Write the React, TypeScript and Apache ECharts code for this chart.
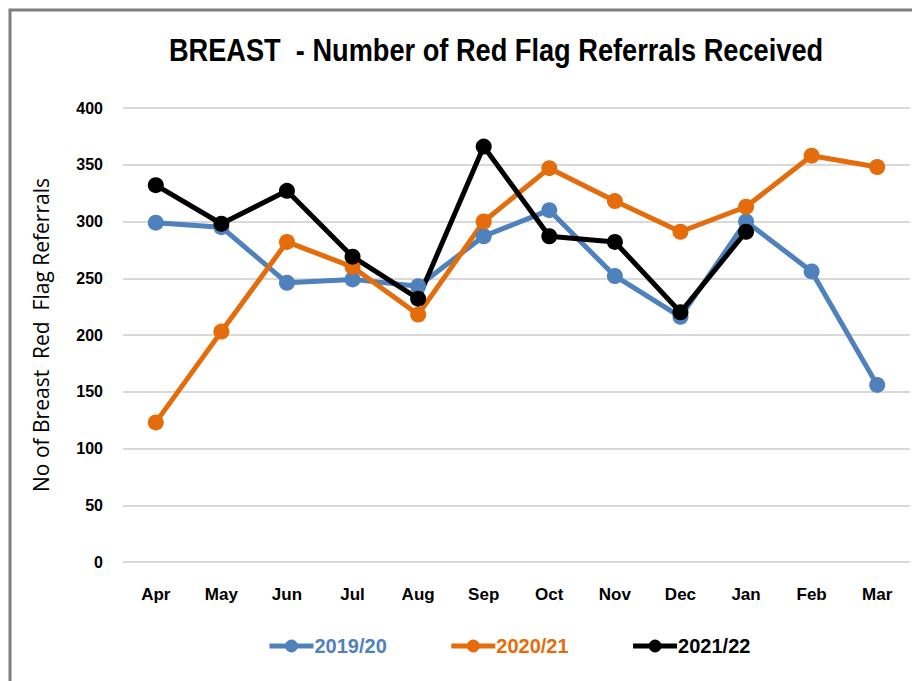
import React, { useEffect, useRef } from "react";
import * as echarts from "echarts";

const months = ["Apr", "May", "Jun", "Jul", "Aug", "Sep", "Oct", "Nov", "Dec", "Jan", "Feb", "Mar"];
const s1920 = [299, 295, 246, 249, 243, 287, 310, 252, 216, 300, 256, 156];
const s2021 = [123, 203, 282, 260, 218, 300, 347, 318, 291, 313, 358, 348];
const s2122 = [332, 298, 327, 269, 232, 366, 287, 282, 220, 291, null, null];
const seriesNames = ["2019/20", "2020/21", "2021/22"];
const colors = ["#4F81BD", "#E46C0A", "#000000"];
const titleText = "BREAST  - Number of Red Flag Referrals Received";
const yAxisTitle = "No of Breast  Red  Flag Referrals";

export default function App() {
  const ref = useRef<HTMLDivElement>(null);
  useEffect(() => {
    if (!ref.current) return;
    const chart = echarts.init(ref.current, null, { renderer: "svg" });
    const datas = [s1920, s2021, s2122];
    const font = "'Liberation Sans', Arial, sans-serif";
    chart.setOption({
      animation: false,
      backgroundColor: "#ffffff",
      graphic: [
        {
          type: "rect",
          shape: { x: 10, y: 10, width: 960, height: 760 },
          style: { fill: "none", stroke: "#7f7f7f", lineWidth: 3 },
          silent: true,
        },
        {
          type: "text",
          x: 496,
          y: 50,
          scaleX: 0.85,
          style: {
            text: titleText,
            align: "center",
            verticalAlign: "middle",
            fontFamily: font,
            fontWeight: "bold",
            fontSize: 32,
            fill: "#000",
          },
        },
      ],
      legend: {
        bottom: 20,
        left: 262,
        itemWidth: 44,
        itemHeight: 16,
        itemGap: 62,
        lineStyle: { width: 5 },
        data: seriesNames.map((n, i) => ({ name: n, textStyle: { color: colors[i] } })),
        textStyle: { fontFamily: font, fontWeight: "bold", fontSize: 20, padding: [0, 0, 0, -4] },
      },
      grid: { left: 123, right: 2, top: 108, bottom: 119, containLabel: false },
      xAxis: {
        type: "category",
        data: months,
        boundaryGap: true,
        axisLine: { show: false },
        axisTick: { show: false },
        axisLabel: { margin: 24, color: "#000", fontFamily: font, fontWeight: "bold", fontSize: 17 },
      },
      yAxis: {
        type: "value",
        min: 0,
        max: 400,
        interval: 50,
        name: yAxisTitle,
        nameLocation: "middle",
        nameGap: 72,
        nameTextStyle: { fontFamily: "'Open Sans', sans-serif", fontSize: 21, color: "#000" },
        axisLine: { show: false },
        axisTick: { show: false },
        axisLabel: { margin: 20, color: "#000", fontFamily: font, fontWeight: "bold", fontSize: 16 },
        splitLine: { lineStyle: { color: "#d9d9d9", width: 2 } },
      },
      series: seriesNames.map((n, i) => ({
        name: n,
        type: "line",
        data: datas[i],
        symbol: "circle",
        symbolSize: 16,
        connectNulls: false,
        itemStyle: { color: colors[i] },
        lineStyle: { color: colors[i], width: 5 },
      })),
    });
    return () => chart.dispose();
  }, []);
  return <div ref={ref} style={{ position: "fixed", left: 0, top: 0, width: 912, height: 681 }} />;
}
